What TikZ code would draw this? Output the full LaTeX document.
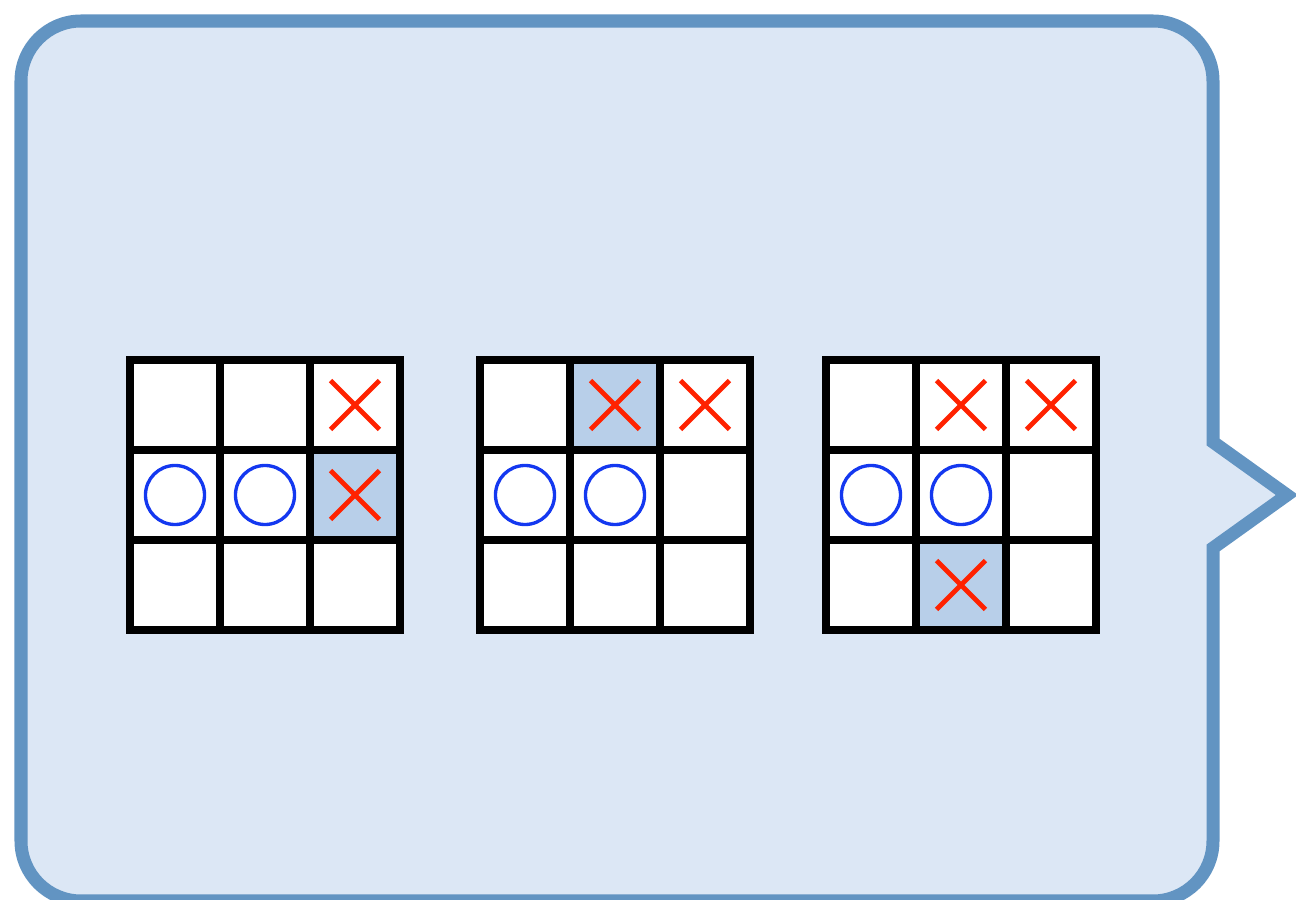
\documentclass[tikz,border=0pt]{standalone}
\usepackage{tikz}
\usetikzlibrary{positioning}
\usetikzlibrary{shapes.misc}
\definecolor{bubbleline}{RGB}{98,148,194}
\definecolor{bubblefill}{RGB}{220,231,245}
\definecolor{pick}{RGB}{184,207,233}
\definecolor{xred}{RGB}{255,34,0}
\definecolor{oblue}{RGB}{20,56,240}

\begin{document}
\begin{tikzpicture}[
    x=0.01cm, y=0.01cm,
    bubble/.style={draw=bubbleline, fill=bubblefill, line width=3.7pt, line join=miter},
    cell/.style={rectangle, draw=black, line width=2.2pt, fill=white, minimum size=0.9cm, inner sep=0pt},
    picked/.style={cell, fill=pick},
    xmark/.style={cross out, draw=xred, line width=1.4pt, minimum size=0.44cm, inner sep=0pt},
    omark/.style={circle, draw=oblue, line width=0.95pt, minimum size=0.59cm, inner sep=0pt}
]
    \useasboundingbox (0,0) rectangle (1296,899);

    \draw[bubble] (81,878) -- (1153,878) arc[start angle=90, end angle=0, radius=60]
        -- (1213,457) -- (1287,404) -- (1213,351)
        -- (1213,58) arc[start angle=0, end angle=-90, radius=60]
        -- (81,-2) arc[start angle=270, end angle=180, radius=60]
        -- (21,818) arc[start angle=180, end angle=90, radius=60] -- cycle;

    \foreach \g/\x in {a/130, b/480, c/826} {
        \foreach \i in {0,1,2} {
            \foreach \j in {0,1,2} {
                \node[cell] (\g\i\j) at (\x+45+90*\i, 494-90*\j) {};
            }
        }
    }

    \foreach \c in {a21, b10, c12} {
        \node[picked] (p\c) at (\c) {};
    }

    \foreach \c in {a20, a21, b10, b20, c10, c20, c12} {
        \node[xmark] (x\c) at (\c) {};
    }

    \foreach \c in {a01, a11, b01, b11, c01, c11} {
        \node[omark] (o\c) at (\c) {};
    }
\end{tikzpicture}
\end{document}
